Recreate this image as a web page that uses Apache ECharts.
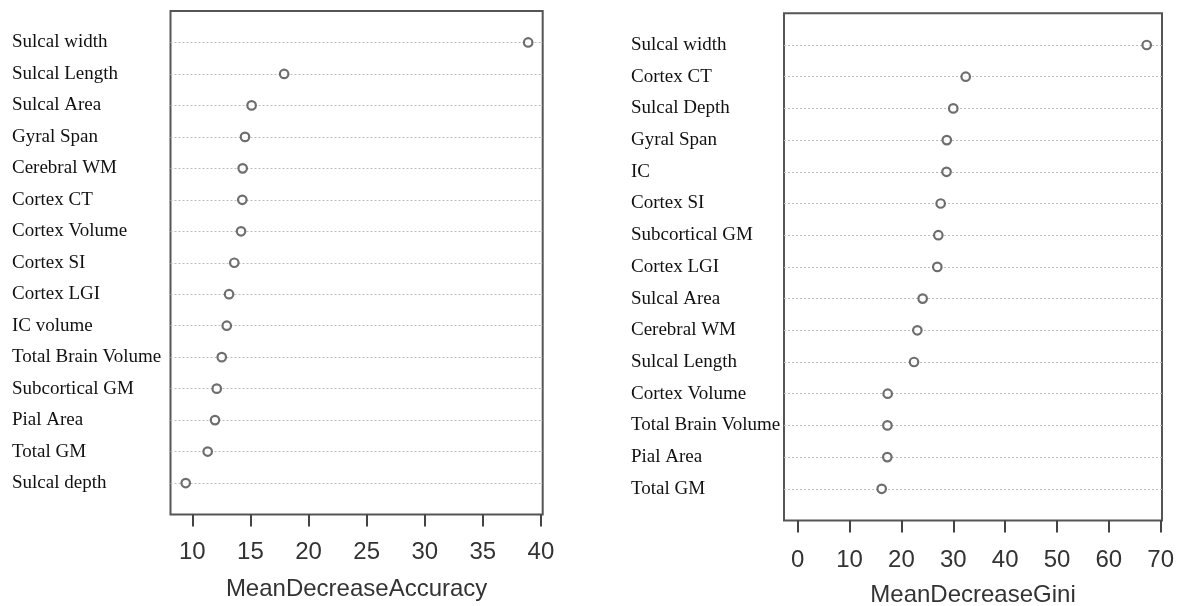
<!DOCTYPE html>
<html>
<head>
<meta charset="utf-8">
<script src="https://cdn.jsdelivr.net/npm/echarts@6/dist/echarts.min.js"></script>
<style>
html,body{margin:0;padding:0;background:#fff;}
#chart{width:1184px;height:606px;}
</style>
</head>
<body>
<div id="chart"></div>
<script>
// Left panel: MeanDecreaseAccuracy
const accLabels = ['Sulcal width','Sulcal Length','Sulcal Area','Gyral Span','Cerebral WM','Cortex CT','Cortex Volume','Cortex SI','Cortex LGI','IC volume','Total Brain Volume','Subcortical GM','Pial Area','Total GM','Sulcal depth'];
const accValues = [38.9,17.9,15.1,14.53,14.33,14.30,14.19,13.61,13.16,12.96,12.53,12.10,11.95,11.32,9.43];
const accTicks = [10,15,20,25,30,35,40];

// Right panel: MeanDecreaseGini
const giniLabels = ['Sulcal width','Cortex CT','Sulcal Depth','Gyral Span','IC','Cortex SI','Subcortical GM','Cortex LGI','Sulcal Area','Cerebral WM','Sulcal Length','Cortex Volume','Total Brain Volume','Pial Area','Total GM'];
const giniValues = [67.3,32.4,30.0,28.75,28.7,27.57,27.12,26.92,24.1,23.07,22.43,17.35,17.3,17.28,16.2];
const giniTicks = [0,10,20,30,40,50,60,70];

const chart = echarts.init(document.getElementById('chart'));

function yAxisFor(labels, gridIndex, margin){
  return {
    type:'value', gridIndex: gridIndex, min:0, max:labels.length+1, interval:1, inverse:true,
    axisLine:{show:false}, axisTick:{show:false},
    splitLine:{show:true, showMinLine:false, showMaxLine:false, lineStyle:{color:'#bdbdbd', width:1, type:[2,2]}},
    axisLabel:{
      margin: margin, align:'left', padding:[3,0,0,0],
      fontFamily:'"Liberation Serif","Times New Roman",serif', fontSize:19, color:'#111',
      formatter: function(v){ return labels[v-1] || ''; }
    }
  };
}
function xAxisFor(ticks, gridIndex, min, max, name, labelMargin, nameGap){
  return {
    type:'value', gridIndex: gridIndex, min:min, max:max, position:'bottom',
    name:name, nameLocation:'middle', nameGap:nameGap,
    nameTextStyle:{fontFamily:'"Liberation Sans",Arial,sans-serif', fontSize:24, color:'#333'},
    axisLine:{show:false, onZero:false},
    axisTick:{show:true, customValues:ticks, length:12, lineStyle:{color:'#444', width:2}},
    axisLabel:{customValues:ticks, margin:labelMargin, fontFamily:'"Liberation Sans",Arial,sans-serif', fontSize:24, color:'#333'},
    splitLine:{show:false}
  };
}

const symStyle = {color:'#fff', borderColor:'#4a4a4a', borderWidth:2.2};

chart.setOption({
  animation:false,
  backgroundColor:'#fff',
  grid:[
    {left:170.5, top:11, width:372.2, height:503.5, show:true, borderColor:'#555', borderWidth:2, containLabel:false, outerBoundsMode:'none'},
    {left:784, top:13.3, width:378, height:507.2, show:true, borderColor:'#555', borderWidth:2, containLabel:false, outerBoundsMode:'none'}
  ],
  xAxis:[
    xAxisFor(accTicks, 0, 8.12, 40.15, 'MeanDecreaseAccuracy', 26, 63),
    xAxisFor(giniTicks, 1, -2.64, 70.25, 'MeanDecreaseGini', 28, 63)
  ],
  yAxis:[
    yAxisFor(accLabels, 0, 170.5-12),
    yAxisFor(giniLabels, 1, 784-631)
  ],
  series:[
    {type:'scatter', xAxisIndex:0, yAxisIndex:0, symbol:'circle', symbolSize:8.5, itemStyle:symStyle,
     data: accValues.map((v,i)=>[v, i+1])},
    {type:'scatter', xAxisIndex:1, yAxisIndex:1, symbol:'circle', symbolSize:8.5, itemStyle:symStyle,
     data: giniValues.map((v,i)=>[v, i+1])}
  ]
});
</script>
</body>
</html>
